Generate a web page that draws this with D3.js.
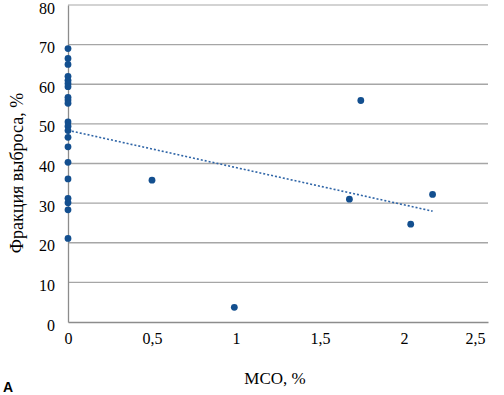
<!DOCTYPE html>
<html>
<head>
<meta charset="utf-8">
<script src="https://cdn.jsdelivr.net/npm/d3@7"></script>
<style>
body { margin: 0; background: #fff; }
</style>
</head>
<body>
<div id="graph"></div>
<script>
// data
var mcoValues = [0, 0, 0, 0, 0, 0, 0, 0, 0, 0, 0, 0, 0, 0, 0, 0, 0, 0, 0, 0, 0,
                 0.5, 0.99, 1.675, 1.743, 2.04, 2.17];
var efValues = [69, 66.5, 65, 62, 61, 60.2, 59.4, 56.7, 56, 55.2, 50.5, 49.4, 48.3, 46.6, 44.2, 40.3, 36.1, 31.2, 30.1, 28.3, 21.1,
                35.8, 3.7, 31, 55.9, 24.7, 32.2];
var xTicks = [0, 0.5, 1, 1.5, 2, 2.5];
var yTicks = [0, 10, 20, 30, 40, 50, 60, 70, 80];

var width = 504, height = 395;
var margin = {top: 5, right: 16, bottom: 73, left: 68};
var serif = "Liberation Serif";

var points = mcoValues.map(function(d, i){ return {x: d, y: efValues[i]}; });

var x = d3.scaleLinear().domain([0, 2.5]).range([margin.left, width - margin.right]);
var y = d3.scaleLinear().domain([0, 80]).range([height - margin.bottom, margin.top]);

var svg = d3.select("#graph")
	.append("svg")
		.attr("width", width)
		.attr("height", height)
		.attr("font-family", serif);

// horizontal gridlines
svg.append("g")
	.selectAll("line")
	.data(yTicks.filter(function(d){ return d > 0; }))
	.enter()
	.append("line")
		.attr("x1", x(0))
		.attr("x2", x(2.5))
		.attr("y1", function(d){ return y(d); })
		.attr("y2", function(d){ return y(d); })
		.attr("stroke", function(d){ return d === 80 ? "#c4c4c4" : "#a6a6a6"; })
		.attr("stroke-width", 1.3);

// axes, no tick marks
var gx = svg.append("g")
	.attr("transform", "translate(0," + y(0) + ")")
	.call(d3.axisBottom(x)
		.tickValues(xTicks)
		.tickSize(0)
		.tickPadding(11)
		.tickFormat(function(d){ return String(d).replace(".", ","); }));
var gy = svg.append("g")
	.attr("transform", "translate(" + x(0) + ",0)")
	.call(d3.axisLeft(y)
		.tickValues(yTicks)
		.tickSize(0)
		.tickPadding(13));

gx.attr("font-family", serif).attr("font-size", 16);
gy.attr("font-family", serif).attr("font-size", 16);
gx.select(".domain").attr("stroke", "#8c8c8c").attr("stroke-width", 1.3);
gy.select(".domain").attr("stroke", "#8c8c8c").attr("stroke-width", 1.3);
svg.selectAll(".tick text").attr("fill", "#000").attr("font-family", serif);
// labels sit a little below their gridline, like the original
gy.selectAll(".tick text").attr("dy", "0.5em");
// last x label is pulled inside the plot area
gx.selectAll(".tick text").filter(function(d){ return d === 2.5; })
	.attr("text-anchor", "end")
	.attr("x", -3);

// linear trendline (least squares)
var mx = d3.mean(points, function(d){ return d.x; });
var my = d3.mean(points, function(d){ return d.y; });
var sxy = d3.sum(points, function(d){ return (d.x - mx) * (d.y - my); });
var sxx = d3.sum(points, function(d){ return (d.x - mx) * (d.x - mx); });
var slope = sxy / sxx;
var icpt = my - slope * mx;
var xmax = d3.max(mcoValues);

svg.append("line")
	.attr("x1", x(0))
	.attr("y1", y(icpt))
	.attr("x2", x(xmax))
	.attr("y2", y(icpt + slope * xmax))
	.attr("stroke", "#2f65a7")
	.attr("stroke-width", 1.6)
	.attr("stroke-dasharray", "2,2");

// points
svg.append("g")
	.selectAll("circle")
	.data(points)
	.enter()
	.append("circle")
		.attr("cx", function(d){ return x(d.x); })
		.attr("cy", function(d){ return y(d.y); })
		.attr("r", 3.4)
		.attr("fill", "#134f8f");

// axis titles
svg.append("text")
	.attr("x", 275)
	.attr("y", 384)
	.attr("text-anchor", "middle")
	.attr("font-family", serif)
	.attr("font-size", 17)
	.text("МСО, %");

svg.append("text")
	.attr("transform", "translate(23,173) rotate(-90)")
	.attr("text-anchor", "middle")
	.attr("font-family", serif)
	.attr("font-size", 18)
	.text("Фракция выброса, %");

svg.append("text")
	.attr("x", 3)
	.attr("y", 392)
	.attr("font-family", "Liberation Sans")
	.attr("font-weight", "bold")
	.attr("font-size", 14)
	.text("A");
</script>
</body>
</html>
